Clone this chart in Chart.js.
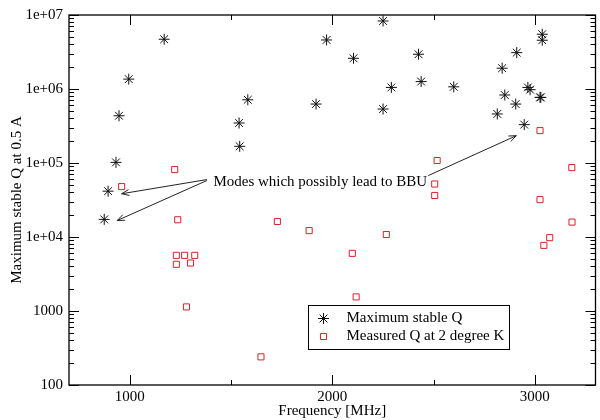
<!DOCTYPE html>
<html>
<head>
<meta charset="utf-8">
<script src="https://cdn.jsdelivr.net/npm/chart.js@4.4.1/dist/chart.umd.min.js"></script>
<style>
  html, body { margin: 0; padding: 0; background: white; overflow: hidden; }
  #wrap { width: 602px; height: 420px; }
</style>
</head>
<body>
<div id="wrap"><canvas id="myChart"></canvas></div>
<script>
// star points: maximum stable Q
var stableFreq = [1170, 995, 947, 932, 893, 874, 1583, 1540, 1543, 1972, 2105, 2251, 2426, 1920, 2292,
    2251, 2439, 2600, 2815, 2839, 2911, 2852, 2906, 2948, 2966, 2977, 3026, 3030, 3037, 3037];
var stableQ = [4.7e6, 1.36e6, 4.35e5, 1.02e5, 4.16e4, 1.73e4, 7.15e5, 3.47e5, 1.68e5, 4.6e6, 2.6e6, 8.3e6, 2.95e6, 6.26e5, 1.05e6,
    5.36e5, 1.26e6, 1.07e6, 4.6e5, 1.91e6, 3.1e6, 8.3e5, 6.26e5, 3.3e5, 1.05e6, 9.8e5, 7.7e5, 7.7e5, 5.5e6, 4.56e6];

// square points: measured Q at 2 K
var measFreq = [960, 1222, 1237, 1230, 1271, 1321, 1230, 1300, 1280, 1648, 1729, 1886, 2099, 2118, 2267,
    3045, 3074, 3184, 2518, 2506, 2506, 3026, 3183, 3026];
var measQ = [4.8e4, 8.15e4, 1.71e4, 5650, 5650, 5650, 4280, 4450, 1135, 240, 1.62e4, 1.22e4, 6010, 1550, 1.08e4,
    7710, 9800, 1.59e4, 1.08e5, 5.2e4, 3.64e4, 2.74e5, 8.67e4, 3.2e4];

var seriesLabels = ["Maximum stable Q", "Measured Q at 2 degree K"];

var xTicks = [1000, 2000, 3000];
var xMinorTicks = [1500, 2500];
var yTicks = [100, 1000, 1e4, 1e5, 1e6, 1e7];
var yTickLabels = ["100", "1000", "1e+04", "1e+05", "1e+06", "1e+07"];

// annotation, in data units
var noteText = "Modes which possibly lead to BBU";
var noteAt = [1413, 5.6e4];
var arrowX0 = [1381, 1381, 2474];
var arrowY0 = [5.97e4, 5.8e4, 6.76e4];
var arrowX1 = [960, 938, 2909];
var arrowY1 = [3.84e4, 1.67e4, 2.34e5];

var serif = "'Liberation Serif', 'Times New Roman', serif";
var redColor = "rgb(212, 36, 44)";

function toPoints(xs, ys) {
    var pts = [];
    for (var i = 0; i < xs.length; i++) {
        pts.push({x: xs[i], y: ys[i]});
    }
    return pts;
}

// frame, inward ticks, arrows, note and legend box (grace style)
var gracePlugin = {
    id: "grace",
    afterDatasetsDraw: function(chart) {
        var ctx = chart.ctx;
        var a = chart.chartArea;
        var xs = chart.scales.x;
        var ys = chart.scales.y;
        var major = 10, minor = 5;

        ctx.save();
        ctx.strokeStyle = "#000";
        ctx.lineWidth = 1.3;
        ctx.strokeRect(a.left, a.top, a.right - a.left, a.bottom - a.top);

        ctx.lineWidth = 1;
        ctx.beginPath();
        // x ticks, bottom and top
        xTicks.forEach(function(v) {
            var px = Math.round(xs.getPixelForValue(v)) + 0.5;
            ctx.moveTo(px, a.bottom); ctx.lineTo(px, a.bottom - major);
            ctx.moveTo(px, a.top); ctx.lineTo(px, a.top + major);
        });
        xMinorTicks.forEach(function(v) {
            var px = Math.round(xs.getPixelForValue(v)) + 0.5;
            ctx.moveTo(px, a.bottom); ctx.lineTo(px, a.bottom - minor);
            ctx.moveTo(px, a.top); ctx.lineTo(px, a.top + minor);
        });
        // y ticks, left and right, with minor ticks 2..9 per decade
        for (var i = 0; i < yTicks.length; i++) {
            var py = Math.round(ys.getPixelForValue(yTicks[i])) + 0.5;
            ctx.moveTo(a.left, py); ctx.lineTo(a.left + major, py);
            ctx.moveTo(a.right, py); ctx.lineTo(a.right - major, py);
            if (i < yTicks.length - 1) {
                for (var m = 2; m <= 9; m++) {
                    var pm = Math.round(ys.getPixelForValue(yTicks[i] * m)) + 0.5;
                    ctx.moveTo(a.left, pm); ctx.lineTo(a.left + minor, pm);
                    ctx.moveTo(a.right, pm); ctx.lineTo(a.right - minor, pm);
                }
            }
        }
        ctx.stroke();

        // arrows
        ctx.strokeStyle = "#222";
        ctx.lineWidth = 1;
        for (var k = 0; k < arrowX0.length; k++) {
            var x0 = xs.getPixelForValue(arrowX0[k]), y0 = ys.getPixelForValue(arrowY0[k]);
            var x1 = xs.getPixelForValue(arrowX1[k]), y1 = ys.getPixelForValue(arrowY1[k]);
            var ang = Math.atan2(y1 - y0, x1 - x0);
            var head = 8, spread = 0.38;
            ctx.beginPath();
            ctx.moveTo(x0, y0); ctx.lineTo(x1, y1);
            ctx.moveTo(x1 - head * Math.cos(ang - spread), y1 - head * Math.sin(ang - spread));
            ctx.lineTo(x1, y1);
            ctx.lineTo(x1 - head * Math.cos(ang + spread), y1 - head * Math.sin(ang + spread));
            ctx.stroke();
        }

        // note text
        ctx.fillStyle = "#000";
        ctx.font = "15px " + serif;
        ctx.textBaseline = "middle";
        ctx.textAlign = "left";
        ctx.fillText(noteText, xs.getPixelForValue(noteAt[0]), ys.getPixelForValue(noteAt[1]));

        // legend box
        var bx = 308.5, by = 305.5, bw = 201, bh = 44;
        ctx.fillStyle = "#fff";
        ctx.fillRect(bx, by, bw, bh);
        ctx.strokeStyle = "#000";
        ctx.lineWidth = 1;
        ctx.strokeRect(bx, by, bw, bh);
        var rows = [by + 13, by + 31];
        for (var d = 0; d < chart.data.datasets.length; d++) {
            var ds = chart.data.datasets[d];
            // drawPoint uses the current context styles
            ctx.strokeStyle = ds.borderColor;
            ctx.fillStyle = ds.backgroundColor;
            ctx.lineWidth = ds.borderWidth;
            Chart.helpers.drawPoint(ctx, {
                pointStyle: ds.pointStyle,
                radius: ds.pointRadius,
                borderWidth: ds.borderWidth
            }, bx + 15, rows[d]);
            ctx.fillStyle = "#000";
            ctx.fillText(ds.label, bx + 38, rows[d]);
        }
        ctx.restore();
    }
};

const ctx = document.getElementById("myChart");
const myChart = new Chart(ctx, {
    type: "scatter",
    data: {
        datasets: [
            {
                label: seriesLabels[0],
                data: toPoints(stableFreq, stableQ),
                pointStyle: "star",
                pointRadius: 5.5,
                borderWidth: 1,
                borderColor: "#111",
                backgroundColor: "#111"
            },
            {
                label: seriesLabels[1],
                data: toPoints(measFreq, measQ),
                pointStyle: "rect",
                pointRadius: 4.3,
                borderWidth: 1,
                borderColor: redColor,
                backgroundColor: "rgba(0,0,0,0)"
            }
        ]
    },
    options: {
        responsive: true,
        maintainAspectRatio: false,
        animation: false,
        layout: { padding: { top: 14, left: 0, right: 1, bottom: 0 } },
        scales: {
            x: {
                type: "linear",
                min: 700,
                max: 3300,
                afterBuildTicks: function(s) { s.ticks = xTicks.map(function(v) { return {value: v}; }); },
                afterFit: function(s) { s.height = 35; },
                grid: { display: false, drawTicks: false },
                border: { display: false },
                ticks: {
                    color: "#000",
                    padding: 3,
                    maxRotation: 0,
                    font: { family: serif, size: 15 },
                    callback: function(v) { return String(v); }
                },
                title: {
                    display: true,
                    text: "Frequency [MHz]",
                    color: "#000",
                    padding: { top: 0, bottom: 0 },
                    font: { family: serif, size: 15 }
                }
            },
            y: {
                type: "logarithmic",
                min: 100,
                max: 1e7,
                afterBuildTicks: function(s) { s.ticks = yTicks.map(function(v) { return {value: v}; }); },
                afterFit: function(s) { s.width = 69; },
                grid: { display: false, drawTicks: false },
                border: { display: false },
                ticks: {
                    color: "#000",
                    padding: 6,
                    font: { family: serif, size: 15 },
                    callback: function(v, i) { return yTickLabels[i]; }
                },
                title: {
                    display: true,
                    text: "Maximum stable Q at 0.5 A",
                    color: "#000",
                    padding: { top: 8, bottom: 0 },
                    font: { family: serif, size: 15 }
                }
            }
        },
        plugins: {
            legend: { display: false },
            tooltip: { enabled: false }
        }
    },
    plugins: [gracePlugin]
});
</script>
</body>
</html>
